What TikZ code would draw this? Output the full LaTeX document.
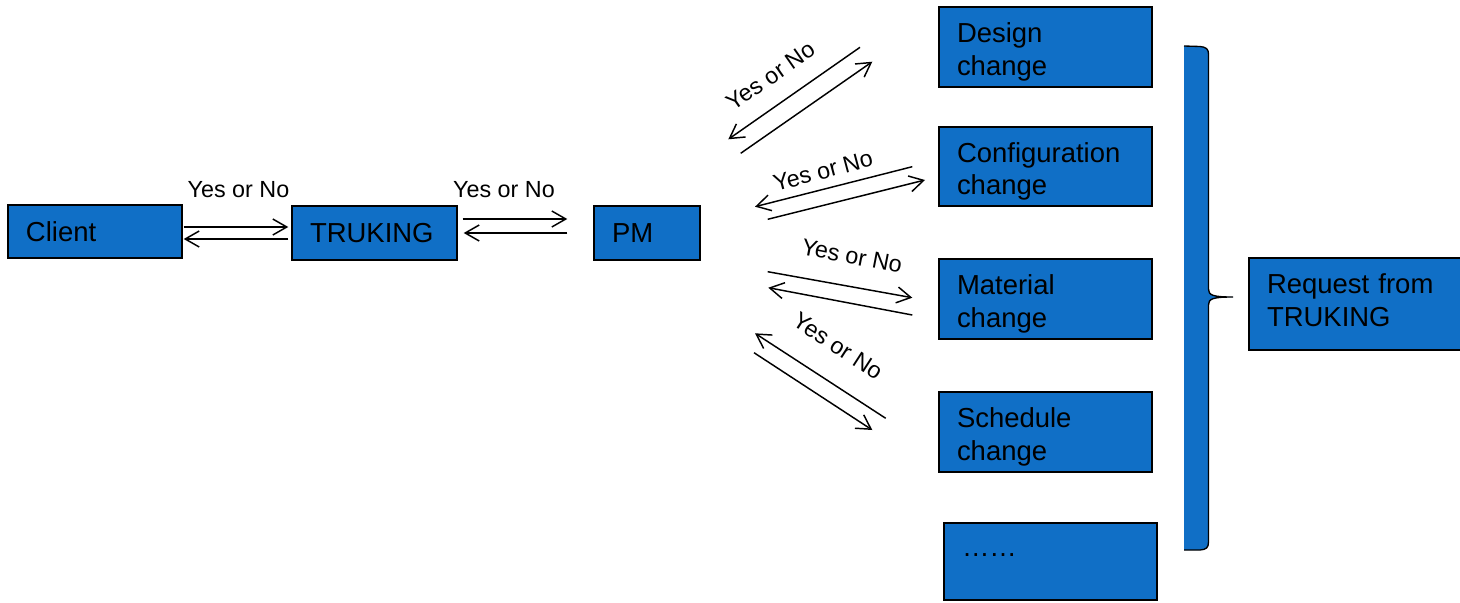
\documentclass[tikz,border=0pt]{standalone}
\usepackage{fontspec}
\setmainfont{Liberation Sans}
\usetikzlibrary{arrows.meta}
\definecolor{boxblue}{HTML}{106FC6}
\newcommand\myboxfont{\fontsize{20.6pt}{24.3pt}\selectfont}
\newcommand\mylblfont{\fontsize{17.5pt}{21pt}\selectfont}
\begin{document}
\begin{tikzpicture}[x=0.75pt,y=-0.75pt,
  box/.style={draw=black, line width=1.1pt, fill=boxblue, inner xsep=13.5pt, inner ysep=0pt,
    align=left, font=\myboxfont, text=black},
  bigbox/.style={box, text width=132.75pt, minimum height=60pt, text height=22.5pt},
  lbl/.style={font=\mylblfont, inner sep=0pt},
  arr/.style={line width=1.1pt, -{Straight Barb[length=10.5pt,width=12pt]}},
  bracestroke/.style={line width=1pt, draw=black}]
\useasboundingbox (0,0) rectangle (1460,603);

% left chain
\node[box, text width=103.5pt, minimum height=39.75pt] (client) at (95,231.5) {Client};
\node[box, text width=96.75pt, minimum height=40.5pt] (truking) at (374.5,233) {TRUKING};
\node[box, text width=52.5pt, minimum height=40.5pt] (pm) at (647,233) {PM};

% right boxes
\node[bigbox] (design) at (1045.5,47) {Design\\change};
\node[bigbox, minimum height=59.25pt] (config) at (1045.5,166.5) {Configuration\\change};
\node[bigbox] (material) at (1045.5,299) {Material\\change};
\node[bigbox] (schedule) at (1045.5,432) {Schedule\\change};
\node[box, text width=132.75pt, minimum height=57.75pt, text height=15pt, text depth=22pt] (more) at (1050.5,561.5) {……};
\node[box, text width=132.75pt, minimum height=69pt, text depth=30pt] (request) at (1355.5,304) {Request from\\TRUKING};

% brace
\fill[boxblue] (1184,46) -- (1200,46.5) .. controls (1206,47) and (1208.5,49) .. (1208.5,54)
  -- (1208.5,289) .. controls (1208.5,295) and (1212,297) .. (1233,297)
  .. controls (1212,297) and (1208.5,299) .. (1208.5,305)
  -- (1208.5,542) .. controls (1208.5,548) and (1206,549.5) .. (1200,550) -- (1184,550) -- cycle;
\draw[bracestroke] (1184,46) -- (1200,46.5) .. controls (1206,47) and (1208.5,49) .. (1208.5,54)
  -- (1208.5,289) .. controls (1208.5,295) and (1212,297) .. (1233,297)
  .. controls (1212,297) and (1208.5,299) .. (1208.5,305)
  -- (1208.5,542) .. controls (1208.5,548) and (1206,549.5) .. (1200,550) -- (1184,550);

% horizontal arrows
\draw[arr] ([shift={(1,-4.5)}]client.east) -- ([shift={(-3,-6)}]truking.west);
\draw[arr] ([shift={(-3,6)}]truking.west) -- ([shift={(1,7.5)}]client.east);
\draw[arr] ([shift={(5,-14)}]truking.east) -- ([shift={(-26,-14)}]pm.west);
\draw[arr] ([shift={(-26,0)}]pm.west) -- ([shift={(6,0)}]truking.east);
\node[lbl] (lab1) at (238.5,189.5) {Yes or No};
\node[lbl] (lab2) at (504,189.5) {Yes or No};

% diagonal arrow end points
\coordinate (a1s) at (860,47.3);   \coordinate (a1e) at (728.3,139.3);
\coordinate (b1s) at (740.7,153.3); \coordinate (b1e) at (872.3,61.7);
\coordinate (a2s) at (912.3,166.7); \coordinate (a2e) at (755,206.7);
\coordinate (b2s) at (767.7,219.3); \coordinate (b2e) at (925,180);
\coordinate (a3s) at (767.7,271.7); \coordinate (a3e) at (912.3,297.7);
\coordinate (b3s) at (912.3,315);   \coordinate (b3e) at (768.3,287.7);
\coordinate (a4s) at (885.7,418.3); \coordinate (a4e) at (755,333.3);
\coordinate (b4s) at (754,352.7);   \coordinate (b4e) at (872.3,430);

\draw[arr] (a1s) -- (a1e);
\draw[arr] (b1s) -- (b1e);
\draw[arr] (a2s) -- (a2e);
\draw[arr] (b2s) -- (b2e);
\draw[arr] (a3s) -- (a3e);
\draw[arr] (b3s) -- (b3e);
\draw[arr] (a4s) -- (a4e);
\draw[arr] (b4s) -- (b4e);

\node[lbl, rotate=35] (lab3) at (771,76) {Yes or No};
\node[lbl, rotate=15] (lab4) at (823,171) {Yes or No};
\node[lbl, rotate=-11] (lab5) at (852,256) {Yes or No};
\node[lbl, rotate=-33] (lab6) at (838,346) {Yes or No};
\end{tikzpicture}
\end{document}
